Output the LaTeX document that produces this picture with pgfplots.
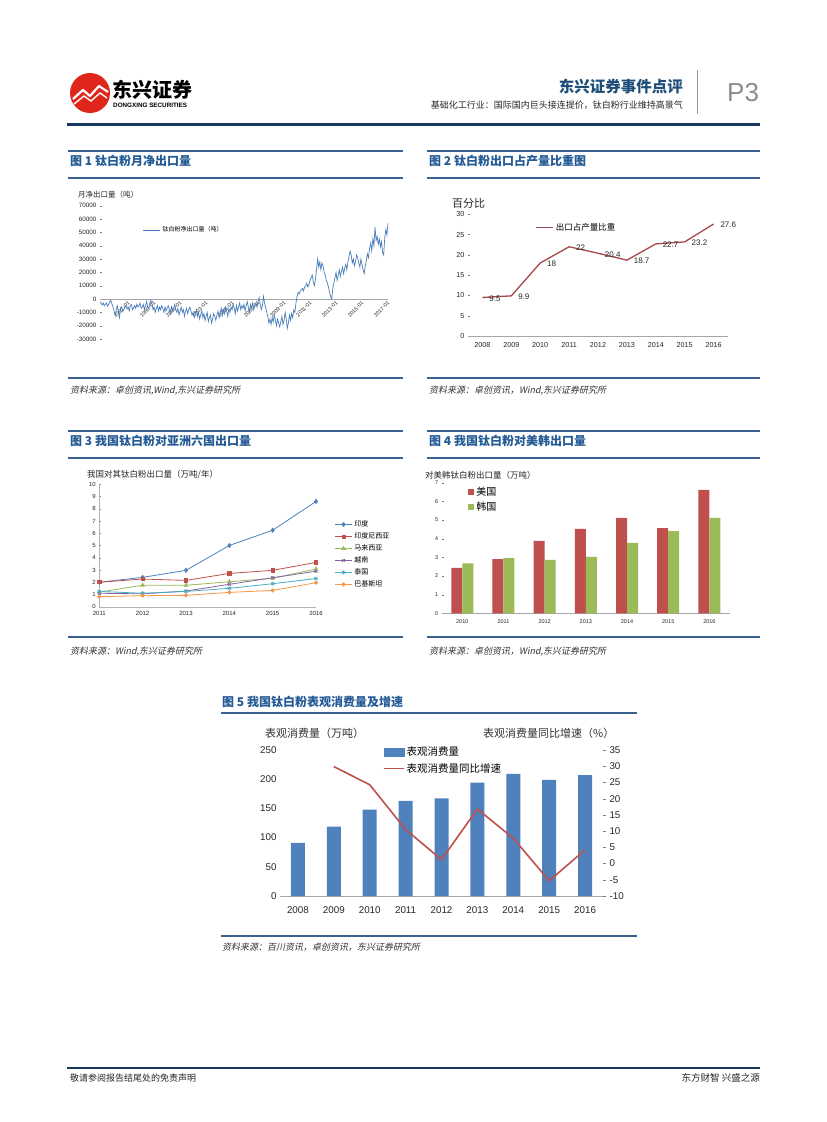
\documentclass[border=0pt]{standalone}
\usepackage{fontspec}
\setmainfont{Liberation Sans}
\newfontfamily\cjk{Noto Sans CJK SC}
\newfontfamily\cjkit[FakeSlant=0.2]{Noto Sans CJK SC}
\usepackage{pgfplots}
\pgfplotsset{compat=1.18}
\newcommand{\fs}[1]{\fontsize{#1}{#1}\selectfont}
\definecolor{hdrblue}{HTML}{1F4E79}
\definecolor{navy}{HTML}{17375E}
\definecolor{secline}{HTML}{3A6291}
\definecolor{titleblue}{HTML}{245A96}
\definecolor{c1line}{HTML}{4A7EBB}
\definecolor{c2line}{HTML}{A6484C}
\definecolor{xblue}{HTML}{4F81BD}
\definecolor{xred}{HTML}{C0504D}
\definecolor{xgreen}{HTML}{9BBB59}
\definecolor{xpurple}{HTML}{8064A2}
\definecolor{xcyan}{HTML}{4BACC6}
\definecolor{xorange}{HTML}{F79646}
\definecolor{logored}{HTML}{E0251B}
\pgfplotsset{
  base/.style={scale only axis, anchor=south west,
    /pgf/number format/assume math mode=true,
    /pgf/number format/1000 sep={}, scaled ticks=false,
    tick label style={text=black!85},
    legend cell align=left},
}
\begin{document}
\begin{tikzpicture}
\path[fill=white,use as bounding box] (0pt,0pt) rectangle (827pt,-1122pt);
\begin{scope}[x=1pt,y=-1pt]
% ---------- header ----------
\fill[logored] (90,93) circle (20);
\draw[white,line width=2.2pt,line join=round] (73,99) -- (83,90) -- (90,96) -- (99,86) -- (108,92);
\draw[white,line width=1.4pt,line join=round] (74,104) -- (84,96) -- (91,101) -- (100,93) -- (107,98);
\node[anchor=west,inner sep=0,font=\cjk\bfseries\fs{20}] at (112,90) {东兴证券};
\node[anchor=west,inner sep=0,font=\bfseries\fs{6.3}] at (113,105) {DONGXING SECURITIES};
\node[anchor=east,inner sep=0,font=\cjk\bfseries\fs{15.5},text=hdrblue] at (683,87) {东兴证券事件点评};
\node[anchor=east,inner sep=0,font=\cjk\fs{9},text=black!85] at (683,105) {基础化工行业：国际国内巨头接连提价，钛白粉行业维持高景气};
\draw[gray!80,line width=1pt] (697,70) -- (697,114);
\node[anchor=west,inner sep=0,font=\fs{26},text=gray!90] at (727,93) {P3};
\draw[navy,line width=3pt] (67,124) -- (760,124);
% ---------- section frames ----------
\foreach \xa/\xb in {68/403,427/760}{
  \draw[secline,line width=1.4pt] (\xa,151) -- (\xb,151);
  \draw[secline,line width=1.4pt] (\xa,178) -- (\xb,178);
  \draw[secline,line width=1.4pt] (\xa,378) -- (\xb,378);
  \draw[secline,line width=1.4pt] (\xa,431) -- (\xb,431);
  \draw[secline,line width=1.4pt] (\xa,458) -- (\xb,458);
  \draw[secline,line width=1.4pt] (\xa,637) -- (\xb,637);
}
\draw[secline,line width=1.4pt] (221,713) -- (637,713);
\draw[secline,line width=1.4pt] (221,936) -- (637,936);
\node[anchor=west,inner sep=0,font=\cjk\bfseries\fs{12},text=titleblue] at (70,161) {图 1 钛白粉月净出口量};
\node[anchor=west,inner sep=0,font=\cjk\bfseries\fs{12},text=titleblue] at (429,161) {图 2 钛白粉出口占产量比重图};
\node[anchor=west,inner sep=0,font=\cjk\bfseries\fs{12},text=titleblue] at (70,441) {图 3 我国钛白粉对亚洲六国出口量};
\node[anchor=west,inner sep=0,font=\cjk\bfseries\fs{12},text=titleblue] at (429,441) {图 4 我国钛白粉对美韩出口量};
\node[anchor=west,inner sep=0,font=\cjk\bfseries\fs{12},text=titleblue] at (222,702) {图 5 我国钛白粉表观消费量及增速};
\node[anchor=west,inner sep=0,font=\cjkit\fs{9},text=black!80] at (70,391) {资料来源：卓创资讯,Wind,东兴证券研究所};
\node[anchor=west,inner sep=0,font=\cjkit\fs{9},text=black!80] at (429,391) {资料来源：卓创资讯，Wind,东兴证券研究所};
\node[anchor=west,inner sep=0,font=\cjkit\fs{9},text=black!80] at (70,652) {资料来源：Wind,东兴证券研究所};
\node[anchor=west,inner sep=0,font=\cjkit\fs{9},text=black!80] at (429,652) {资料来源：卓创资讯，Wind,东兴证券研究所};
\node[anchor=west,inner sep=0,font=\cjkit\fs{9},text=black!80] at (222,947) {资料来源：百川资讯，卓创资讯，东兴证券研究所};
% chart titles
\node[anchor=west,inner sep=0,font=\cjk\fs{7.5},text=black!85] at (78,195) {月净出口量（吨）};
\node[anchor=west,inner sep=0,font=\cjk\fs{11},text=black!85] at (452,203) {百分比};
\node[anchor=west,inner sep=0,font=\cjk\fs{8.5},text=black!85] at (87,475) {我国对其钛白粉出口量（万吨/年）};
\node[anchor=west,inner sep=0,font=\cjk\fs{8.5},text=black!85] at (425,475) {对美韩钛白粉出口量（万吨）};
\node[anchor=west,inner sep=0,font=\cjk\fs{11},text=black!80] at (265,733) {表观消费量（万吨）};
\node[anchor=west,inner sep=0,font=\cjk\fs{11},text=black!80] at (483,733) {表观消费量同比增速（\%）};
% ---------- footer ----------
\draw[navy,line width=1.6pt] (67,1068) -- (760,1068);
\node[anchor=west,inner sep=0,font=\cjk\fs{9},text=black!85] at (70,1078) {敬请参阅报告结尾处的免责声明};
\node[anchor=east,inner sep=0,font=\cjk\fs{9.5},text=black!85] at (760,1078) {东方财智 兴盛之源};
\end{scope}

% ================= Figure 1 =================
\begin{axis}[base, at={(100pt,-339pt)}, width=288pt, height=133.3pt,
  xmin=0, xmax=266, ymin=-30000, ymax=70000,
  ytick={-30000,-20000,-10000,0,10000,20000,30000,40000,50000,60000,70000},
  xtick={0,24,48,72,96,120,144,168,192,216,240,264},
  xticklabels={1995-01,1997-01,1999-01,2001-01,2003-01,2005-01,2007-01,2009-01,2011-01,2013-01,2015-01,2017-01},
  axis x line=middle, x axis line style={-,gray!70},
  axis y line*=left, y axis line style={draw=none},
  xtick style={draw=none}, ytick style={gray}, major tick length=2pt,
  x tick label style={rotate=45, anchor=east, font=\fs{5.3}, yshift=-3.5pt, xshift=1.5pt, inner sep=1pt},
  y tick label style={font=\fs{6.3}},
  legend style={at={(0.145,0.818)}, anchor=west, draw=none, fill=none, font=\cjk\fs{6}, inner sep=1pt},
]
\addplot[c1line, line width=0.7pt] coordinates {
(0,-2000)(1,-3000)(2,-4500)(3,-3000)(4,-5000)(5,-4000)(6,-3000)(7,-5500)(8,-4000)(9,-2000)(10,-1000)(11,-3500)
(12,-6000)(13,-9000)(14,-12500)(15,-8000)(16,-5000)(17,-10000)(18,-14000)(19,-7000)(20,-6000)(21,-9500)(22,-8000)(23,-6000)
(24,-5000)(25,-7500)(26,-6000)(27,-9000)(28,-5000)(29,-4000)(30,-8000)(31,-6500)(32,-5000)(33,-7000)(34,-4000)(35,-6000)
(36,-5000)(37,-3000)(38,-7000)(39,-6000)(40,-4000)(41,-8000)(42,-5000)(43,-2000)(44,-6000)(45,-7000)(46,-3000)(47,-1000)
(48,-4000)(49,-8000)(50,-6000)(51,-10000)(52,-7000)(53,-5000)(54,-9000)(55,-6000)(56,-8000)(57,-5000)(58,-7000)(59,-10000)
(60,-6000)(61,-9000)(62,-7000)(63,-5000)(64,-8000)(65,-11000)(66,-6000)(67,-9000)(68,-7000)(69,-4000)(70,-8000)(71,-10000)
(72,-7000)(73,-12000)(74,-9000)(75,-6000)(76,-10000)(77,-8000)(78,-13000)(79,-9000)(80,-7000)(81,-11000)(82,-8000)(83,-6000)
(84,-9000)(85,-12000)(86,-10000)(87,-14000)(88,-11000)(89,-8000)(90,-13000)(91,-10000)(92,-15000)(93,-12000)(94,-9000)(95,-14000)
(96,-11000)(97,-16000)(98,-13000)(99,-10000)(100,-17000)(101,-14000)(102,-12000)(103,-18000)(104,-15000)(105,-11000)(106,-13000)(107,-16000)
(108,-12000)(109,-9000)(110,-14000)(111,-10000)(112,-7000)(113,-12000)(114,-8000)(115,-11000)(116,-6000)(117,-9000)(118,-13000)(119,-7000)
(120,-10000)(121,-6000)(122,-8000)(123,-4000)(124,-7000)(125,-11000)(126,-5000)(127,-9000)(128,-6000)(129,-3000)(130,-8000)(131,-5000)
(132,-7000)(133,-4000)(134,-9000)(135,-5000)(136,-2000)(137,-6000)(138,-10000)(139,-4000)(140,-7000)(141,-3000)(142,-8000)(143,-5000)
(144,-3000)(145,-6000)(146,-2000)(147,1000)(148,-4000)(149,-8000)(150,-5000)(151,2000)(152,-3000)(153,-6000)(154,-10000)(155,-13000)
(156,-18000)(157,-15000)(158,-19000)(159,-14000)(160,-17000)(161,-12000)(162,-16000)(163,-20000)(164,-15000)(165,-18000)(166,-21000)(167,-17000)
(168,-13000)(169,-19000)(170,-16000)(171,-10000)(172,-15000)(173,-22000)(174,-18000)(175,-12000)(176,-16000)(177,-11000)(178,-14000)(179,-8000)
(180,-10000)(181,-3000)(182,2000)(183,5000)(184,4000)(185,6000)(186,7000)(187,8000)(188,6000)(189,9000)(190,10000)(191,12000)
(192,9000)(193,11000)(194,14000)(195,16000)(196,18000)(197,13000)(198,10000)(199,15000)(200,22000)(201,30000)(202,24000)(203,28000)
(204,22000)(205,27000)(206,25000)(207,20000)(208,18000)(209,14000)(210,12000)(211,9000)(212,5000)(213,2000)(214,0)(215,8000)
(216,12000)(217,16000)(218,20000)(219,14000)(220,18000)(221,22000)(222,17000)(223,21000)(224,24000)(225,19000)(226,23000)(227,26000)
(228,22000)(229,28000)(230,32000)(231,36000)(232,33000)(233,27000)(234,30000)(235,25000)(236,28000)(237,33000)(238,31000)(239,27000)
(240,24000)(241,30000)(242,26000)(243,22000)(244,19000)(245,25000)(246,29000)(247,34000)(248,31000)(249,38000)(250,42000)(251,36000)
(252,45000)(253,40000)(254,54000)(255,44000)(256,47000)(257,41000)(258,45000)(259,39000)(260,43000)(261,35000)(262,33000)(263,46000)
(264,52000)(265,48000)(266,57000)
};
\addlegendentry{钛白粉净出口量（吨）}
\end{axis}

% ================= Figure 2 =================
\begin{axis}[base, at={(468pt,-336pt)}, width=260pt, height=121.7pt,
  xmin=-0.5, xmax=8.5, ymin=0, ymax=30, ytick={0,5,...,30},
  xtick={0,...,8}, xticklabels={2008,2009,2010,2011,2012,2013,2014,2015,2016},
  axis x line*=bottom, axis y line*=left, y axis line style={draw=none},
  x axis line style={-,gray!70}, xtick style={draw=none}, ytick style={gray},
  major tick length=2pt,
  tick label style={font=\fs{7.2}}, x tick label style={yshift=-3pt},
  legend style={at={(0.255,0.89)}, anchor=west, draw=none, fill=none, font=\cjk\fs{8.5}, inner sep=1pt},
  clip=false,
]
\addplot[c2line, line width=1.3pt, nodes near coords, point meta=explicit symbolic,
  every node near coord/.append style={anchor=west, xshift=3pt, yshift=-1pt, font=\fs{8}, text=black!85}]
 coordinates {(0,9.5)[9.5] (1,9.9)[9.9] (2,18)[18] (3,22)[22] (4,20.4)[20.4] (5,18.7)[18.7] (6,22.7)[22.7] (7,23.2)[23.2] (8,27.6)[27.6]};
\addlegendentry{出口占产量比重}
\end{axis}

% ================= Figure 3 =================
\begin{axis}[base, at={(99.3pt,-606.7pt)}, width=216.7pt, height=122.4pt,
  xmin=2011, xmax=2016, ymin=0, ymax=10, ytick={0,...,10}, xtick={2011,...,2016},
  axis x line*=bottom, axis y line*=left, axis line style={-,gray!60},
  tick style={gray}, major tick length=2pt, xtick style={draw=none},
  tick label style={font=\fs{6}}, x tick label style={yshift=-1pt},
  legend style={at={(1.085,0.72)}, anchor=north west, draw=none, fill=none, font=\cjk\fs{7}, inner sep=0pt, row sep=0.6pt,
    /tikz/every even column/.append style={column sep=1pt}},
  clip=false,
]
\addplot[xblue, line width=0.8pt, mark=diamond*, mark size=2pt] coordinates {(2011,2.0)(2012,2.4)(2013,2.97)(2014,5.0)(2015,6.25)(2016,8.6)};
\addlegendentry{印度}
\addplot[xred, line width=0.8pt, mark=square*, mark size=1.6pt] coordinates {(2011,2.0)(2012,2.26)(2013,2.15)(2014,2.72)(2015,2.97)(2016,3.62)};
\addlegendentry{印度尼西亚}
\addplot[xgreen, line width=0.8pt, mark=triangle*, mark size=2pt] coordinates {(2011,1.2)(2012,1.75)(2013,1.75)(2014,2.04)(2015,2.32)(2016,3.08)};
\addlegendentry{马来西亚}
\addplot[xpurple, line width=0.8pt, mark=x, mark size=2pt] coordinates {(2011,1.1)(2012,1.05)(2013,1.28)(2014,1.83)(2015,2.37)(2016,2.9)};
\addlegendentry{越南}
\addplot[xcyan, line width=0.8pt, mark=asterisk, mark size=2pt] coordinates {(2011,1.25)(2012,1.1)(2013,1.25)(2014,1.5)(2015,1.88)(2016,2.3)};
\addlegendentry{泰国}
\addplot[xorange, line width=0.8pt, mark=*, mark size=1.6pt] coordinates {(2011,0.82)(2012,0.9)(2013,0.93)(2014,1.17)(2015,1.33)(2016,1.96)};
\addlegendentry{巴基斯坦}
\end{axis}

% ================= Figure 4 =================
\begin{axis}[base, at={(441.7pt,-613.3pt)}, width=288.3pt, height=130.6pt,
  ybar=0pt, bar width=11pt,
  xmin=-0.5, xmax=6.5, ymin=0, ymax=7, ytick={0,...,7},
  xtick={0,...,6}, xticklabels={2010,2011,2012,2013,2014,2015,2016},
  axis x line*=bottom, axis y line*=left, y axis line style={draw=none},
  x axis line style={-,gray!70}, xtick style={draw=none}, ytick style={gray},
  major tick length=2pt,
  tick label style={font=\fs{5.5}}, x tick label style={yshift=-1pt},
  legend style={at={(0.092,0.985)}, anchor=north west, draw=none, fill=none, font=\cjk\fs{10}, inner sep=0pt, row sep=1pt},
  legend image code/.code={\fill[#1] (0pt,-3pt) rectangle (6pt,3pt);},
]
\addplot[fill=xred, draw=none] coordinates {(0,2.43)(1,2.91)(2,3.88)(3,4.52)(4,5.11)(5,4.57)(6,6.61)};
\addlegendentry{美国}
\addplot[fill=xgreen, draw=none] coordinates {(0,2.68)(1,2.96)(2,2.86)(3,3.02)(4,3.77)(5,4.41)(6,5.11)};
\addlegendentry{韩国}
\end{axis}

% ================= Figure 5 =================
\begin{axis}[base, at={(280pt,-896pt)}, width=323pt, height=146pt,
  ybar, bar width=14pt,
  xmin=-0.5, xmax=8.5, ymin=0, ymax=250, ytick={0,50,...,250},
  xtick={0,...,8}, xticklabels={2008,2009,2010,2011,2012,2013,2014,2015,2016},
  axis x line*=bottom, axis y line*=left, y axis line style={draw=none},
  x axis line style={-,gray!70}, tick style={draw=none},
  tick label style={font=\fs{9.8}}, x tick label style={yshift=-3pt},
]
\addplot[fill=xblue, draw=none] coordinates {(0,91)(1,119)(2,148)(3,163)(4,167)(5,194)(6,209)(7,199)(8,207)};
\end{axis}
\begin{axis}[base, at={(280pt,-896pt)}, width=323pt, height=146pt,
  xmin=-0.5, xmax=8.5, ymin=-10, ymax=35, ytick={-10,-5,...,35},
  axis x line=none, axis y line*=right, y axis line style={draw=none},
  ytick style={gray}, major tick length=3pt, tick align=outside,
  tick label style={font=\fs{9.8}},
  legend style={at={(0.318,1.035)}, anchor=north west, draw=none, fill=none, font=\cjk\fs{10.5}, inner sep=0pt, row sep=2pt},
  legend image code/.code={\draw[#1] (0pt,0pt) -- (20pt,0pt);},
  clip=false,
]
\addlegendimage{legend image code/.code={\fill[xblue] (0pt,-4pt) rectangle (20pt,4pt);}}
\addlegendentry{表观消费量}
\addplot[xred, line width=1.6pt] coordinates {(1,29.9)(2,24.3)(3,10.5)(4,1.2)(5,16.8)(6,7.8)(7,-5.3)(8,4.2)};
\addlegendentry{表观消费量同比增速}
\end{axis}
\end{tikzpicture}
\end{document}
